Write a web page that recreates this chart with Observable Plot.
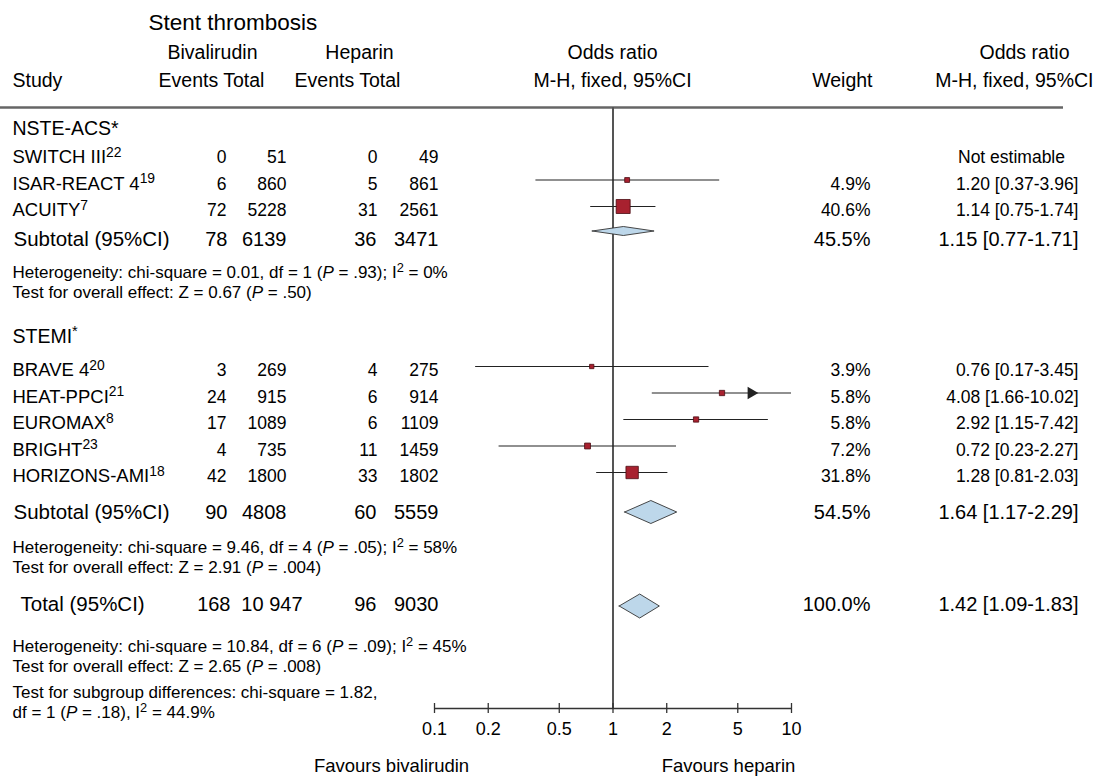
<!DOCTYPE html>
<html><head><meta charset="utf-8">
<script src="https://cdn.jsdelivr.net/npm/d3@7"></script>
<script src="https://cdn.jsdelivr.net/npm/@observablehq/plot@0.6"></script>
<style>body{margin:0;background:#fff} svg{display:block}</style>
</head><body><div id="chart"></div>
<script>
// ---------------- DATA ----------------
const title = "Stent thrombosis";
const groups = ["NSTE-ACS*", "STEMI<sup>*</sup>"];
const studies = ["SWITCH III", "ISAR-REACT 4", "ACUITY", "BRAVE 4", "HEAT-PPCI", "EUROMAX", "BRIGHT", "HORIZONS-AMI"];
const refs = [22, 19, 7, 20, 21, 8, 23, 18];
const studyGroup = [0, 0, 0, 1, 1, 1, 1, 1];
const bivEvents = [0, 6, 72, 3, 24, 17, 4, 42];
const bivTotal = [51, 860, 5228, 269, 915, 1089, 735, 1800];
const hepEvents = [0, 5, 31, 4, 6, 6, 11, 33];
const hepTotal = [49, 861, 2561, 275, 914, 1109, 1459, 1802];
const weights = [null, 4.9, 40.6, 3.9, 5.8, 5.8, 7.2, 31.8];
const oddsRatio = [null, 1.20, 1.14, 0.76, 4.08, 2.92, 0.72, 1.28];
const ciLow = [null, 0.37, 0.75, 0.17, 1.66, 1.15, 0.23, 0.81];
const ciHigh = [null, 3.96, 1.74, 3.45, 10.02, 7.42, 2.27, 2.03];

const sumLabels = ["Subtotal (95%CI)", "Subtotal (95%CI)", "Total (95%CI)"];
const sumBivEvents = [78, 90, 168];
const sumBivTotal = [6139, 4808, 10947];
const sumHepEvents = [36, 60, 96];
const sumHepTotal = [3471, 5559, 9030];
const sumWeights = [45.5, 54.5, 100.0];
const sumOR = [1.15, 1.64, 1.42];
const sumLow = [0.77, 1.17, 1.09];
const sumHigh = [1.71, 2.29, 1.83];

const statLines = [
  ["Heterogeneity: chi-square = 0.01, df = 1 (<i>P</i> = .93); I<sup>2</sup> = 0%",
   "Test for overall effect: Z = 0.67 (<i>P</i> = .50)"],
  ["Heterogeneity: chi-square = 9.46, df = 4 (<i>P</i> = .05); I<sup>2</sup> = 58%",
   "Test for overall effect: Z = 2.91 (<i>P</i> = .004)"],
  ["Heterogeneity: chi-square = 10.84, df = 6 (<i>P</i> = .09); I<sup>2</sup> = 45%",
   "Test for overall effect: Z = 2.65 (<i>P</i> = .008)"],
  ["Test for subgroup differences: chi-square = 1.82,",
   "df = 1 (<i>P</i> = .18), I<sup>2</sup> = 44.9%"]
];
const axisTicks = [0.1, 0.2, 0.5, 1, 2, 5, 10];
const favours = ["Favours bivalirudin", "Favours heparin"];
const notEstimable = "Not estimable";

// ---------------- LAYOUT ----------------
const W = 1099, H = 778;
const FONT = "'Liberation Sans', Arial, Helvetica, sans-serif";
const L = {
  title: 22, head1: 52, head2: 80, rule: 107,
  groupY: [128, 336], studyStart: [157, 370], step: 26.5,
  sumY: [239, 512, 604], diamondY: [231, 512, 606], diamondH: [4.5, 11.5, 12],
  statY: [[272, 292], [547, 567], [646, 666], [692, 712]],
  axisY: 708, tickLabelY: 729, favoursY: 766
};
const col = {study: 12, bivE: 226, bivT: 286, hepE: 377, hepT: 438, weight: 870, orTxt: 1078};

const fmtN = n => n >= 10000 ? d3.format(",")(n).replace(",", " ") : String(n);
const fmtOR = (o, a, b) => `${o.toFixed(2)} [${a.toFixed(2)}-${b.toFixed(2)}]`;

const rows = studies.map((s, i) => {
  const g = studyGroup[i];
  const k = studyGroup.slice(0, i).filter(v => v === g).length;
  const ty = L.studyStart[g] + k * L.step;
  return {
    label: `${s}<sup>${refs[i]}</sup>`, ty, my: ty - 4,
    bivE: bivEvents[i], bivT: bivTotal[i], hepE: hepEvents[i], hepT: hepTotal[i],
    w: weights[i], or: oddsRatio[i], lo: ciLow[i], hi: ciHigh[i]
  };
});
const est = rows.filter(d => d.or != null);
const nonEst = rows.filter(d => d.or == null);
// arrow marker for intervals running past the axis maximum
const arrows = est.filter(d => d.hi > 10).map(d => ({...d, ax: d.or * Math.pow(10 / d.or, 0.42)}));

const sums = sumLabels.map((s, i) => ({
  label: s, ty: L.sumY[i], my: L.diamondY[i], h: L.diamondH[i], total: i === 2,
  bivE: sumBivEvents[i], bivT: sumBivTotal[i], hepE: sumHepEvents[i], hepT: sumHepTotal[i],
  w: sumWeights[i], or: sumOR[i], lo: sumLow[i], hi: sumHigh[i]
}));
const diamondPts = sums.flatMap((d, i) => [
  {id: i, x: d.lo, y1: d.my, y2: d.my},
  {id: i, x: d.or, y1: d.my - d.h, y2: d.my + d.h},
  {id: i, x: d.hi, y1: d.my, y2: d.my}
]);
const stats = statLines.flatMap((pair, i) => pair.map((t, j) => ({t, ty: L.statY[i][j]})));

const T = (data, opts) => Plot.text(data, {frameAnchor: "left", lineAnchor: "middle", fill: "#000", ...opts});

const plot = Plot.plot({
  width: W, height: H,
  marginLeft: 0, marginRight: W - 1063, marginTop: 0, marginBottom: 0,
  x: {type: "log", domain: [0.1, 10], range: [434, 791], axis: null},
  y: {type: "identity", axis: null},
  r: {type: "sqrt", domain: [0, 40.6], range: [0, 7.9]},
  style: {fontFamily: FONT, color: "#000", background: "#fff"},
  marks: [
    // headers
    T([title], {y: () => L.title, text: d => d, dx: 148, textAnchor: "start", fontSize: 22.5}),
    T(["Bivalirudin"], {y: () => L.head1, text: d => d, dx: 212, textAnchor: "middle", fontSize: 19.5}),
    T(["Heparin"], {y: () => L.head1, text: d => d, dx: 359, textAnchor: "middle", fontSize: 19.5}),
    T(["Odds ratio"], {y: () => L.head1, text: d => d, dx: 612, textAnchor: "middle", fontSize: 19.5}),
    T(["Odds ratio"], {y: () => L.head1, text: d => d, dx: 1024, textAnchor: "middle", fontSize: 19.5}),
    T(["Study"], {y: () => L.head2, text: d => d, dx: col.study, textAnchor: "start", fontSize: 19.5}),
    T(["Events Total"], {y: () => L.head2, text: d => d, dx: 211, textAnchor: "middle", fontSize: 19.5}),
    T(["Events Total"], {y: () => L.head2, text: d => d, dx: 347, textAnchor: "middle", fontSize: 19.5}),
    T(["M-H, fixed, 95%CI"], {y: () => L.head2, text: d => d, dx: 612, textAnchor: "middle", fontSize: 19.5}),
    T(["Weight"], {y: () => L.head2, text: d => d, dx: 872, textAnchor: "end", fontSize: 19.5}),
    T(["M-H, fixed, 95%CI"], {y: () => L.head2, text: d => d, dx: 1093, textAnchor: "end", fontSize: 19.5}),
    Plot.ruleY([L.rule], {y: d => d, stroke: "#666", strokeWidth: 2.5}),

    // reference line
    Plot.ruleX([1], {x: d => d, y1: () => L.rule, y2: () => L.axisY, stroke: "#555", strokeWidth: 2}),

    // group headings
    T(groups, {y: (d, i) => L.groupY[i], text: d => d, dx: col.study, textAnchor: "start", fontSize: 19.5}),

    // study rows
    T(rows, {y: "ty", text: "label", dx: col.study, textAnchor: "start", fontSize: 18.5}),
    T(rows, {y: "ty", text: d => fmtN(d.bivE), dx: col.bivE, textAnchor: "end", fontSize: 17.5}),
    T(rows, {y: "ty", text: d => fmtN(d.bivT), dx: col.bivT, textAnchor: "end", fontSize: 17.5}),
    T(rows, {y: "ty", text: d => fmtN(d.hepE), dx: col.hepE, textAnchor: "end", fontSize: 17.5}),
    T(rows, {y: "ty", text: d => fmtN(d.hepT), dx: col.hepT, textAnchor: "end", fontSize: 17.5}),
    T(est, {y: "ty", text: d => d.w.toFixed(1) + "%", dx: col.weight, textAnchor: "end", fontSize: 17.5}),
    T(est, {y: "ty", text: d => fmtOR(d.or, d.lo, d.hi), dx: col.orTxt, textAnchor: "end", fontSize: 17.5}),
    T(nonEst, {y: "ty", text: () => notEstimable, dx: 1011, textAnchor: "middle", fontSize: 17.5}),

    // CI lines, squares, arrow
    Plot.ruleY(est, {y: "my", x1: "lo", x2: d => Math.min(d.hi, 10), stroke: "#222", strokeWidth: 1.1}),
    Plot.dot(est, {x: "or", y: "my", r: "w", symbol: "square", fill: "#a8212f", stroke: "#4a0b12", strokeWidth: 0.8}),
    Plot.dot(arrows, {x: "ax", y: "my", symbol: "triangle", rotate: 90, r: 4.6, fill: "#222", stroke: "none"}),

    // summary rows
    T(sums.filter(d => !d.total), {y: "ty", text: "label", dx: 13, textAnchor: "start", fontSize: 20.5}),
    T(sums.filter(d => d.total), {y: "ty", text: "label", dx: 20, textAnchor: "start", fontSize: 20.5}),
    T(sums.filter(d => !d.total), {y: "ty", text: d => fmtN(d.bivE), dx: col.bivE + 1, textAnchor: "end", fontSize: 20}),
    T(sums.filter(d => !d.total), {y: "ty", text: d => fmtN(d.bivT), dx: col.bivT, textAnchor: "end", fontSize: 20}),
    T(sums.filter(d => d.total), {y: "ty", text: d => fmtN(d.bivE), dx: 230, textAnchor: "end", fontSize: 20}),
    T(sums.filter(d => d.total), {y: "ty", text: d => fmtN(d.bivT), dx: 302, textAnchor: "end", fontSize: 20}),
    T(sums, {y: "ty", text: d => fmtN(d.hepE), dx: col.hepE - 1, textAnchor: "end", fontSize: 20}),
    T(sums, {y: "ty", text: d => fmtN(d.hepT), dx: col.hepT, textAnchor: "end", fontSize: 20}),
    T(sums, {y: "ty", text: d => d.w.toFixed(1) + "%", dx: col.weight, textAnchor: "end", fontSize: 20}),
    T(sums, {y: "ty", text: d => fmtOR(d.or, d.lo, d.hi), dx: col.orTxt, textAnchor: "end", fontSize: 20}),
    Plot.areaY(diamondPts, {x: "x", y1: "y1", y2: "y2", z: "id", fill: "#bdd7ea", stroke: "#333", strokeWidth: 0.9, curve: "linear"}),

    // statistics lines
    T(stats, {y: "ty", text: "t", dx: col.study, textAnchor: "start", fontSize: 17}),

    // x axis
    Plot.ruleY([L.axisY], {y: d => d, x1: () => axisTicks[0], x2: () => axisTicks[axisTicks.length - 1], stroke: "#333", strokeWidth: 1.3}),
    Plot.ruleX(axisTicks, {x: d => d, y1: () => L.axisY - 5, y2: () => L.axisY + 5, stroke: "#333", strokeWidth: 1.3}),
    Plot.text(axisTicks, {x: d => d, y: () => L.tickLabelY, text: d => String(d), fontSize: 18, lineAnchor: "middle", fill: "#000"}),
    T(favours, {y: () => L.favoursY, text: d => d, dx: 391, textAnchor: "middle", fontSize: 18.5, filter: (d, i) => i === 0}),
    T(favours, {y: () => L.favoursY, text: d => d, dx: 728, textAnchor: "middle", fontSize: 18.5, filter: (d, i) => i === 1})
  ]
});

document.getElementById("chart").appendChild(plot);

// rich text: <i>..</i> and <sup>..</sup>
(function rich(svg) {
  const ns = "http://www.w3.org/2000/svg";
  svg.querySelectorAll("text").forEach(t => {
    const s = t.textContent;
    if (!/<(i|sup)>/.test(s)) return;
    const fs = parseFloat(getComputedStyle(t).fontSize) || 16;
    const up = fs * 0.36;
    t.textContent = "";
    let raised = false;
    const add = (str, kind) => {
      if (!str) return;
      const ts = document.createElementNS(ns, "tspan");
      ts.textContent = str;
      if (kind === "i") ts.setAttribute("font-style", "italic");
      if (kind === "sup") {
        ts.setAttribute("font-size", (fs * 0.75).toFixed(1));
        if (!raised) { ts.setAttribute("dy", (-up).toFixed(1)); raised = true; }
      } else if (raised) {
        ts.setAttribute("dy", up.toFixed(1)); raised = false;
      }
      t.appendChild(ts);
    };
    const re = /<(i|sup)>(.*?)<\/\1>/g;
    let last = 0, m;
    while ((m = re.exec(s))) {
      add(s.slice(last, m.index), null);
      add(m[2], m[1]);
      last = re.lastIndex;
    }
    add(s.slice(last), null);
  });
})(plot);
</script>
</body></html>
